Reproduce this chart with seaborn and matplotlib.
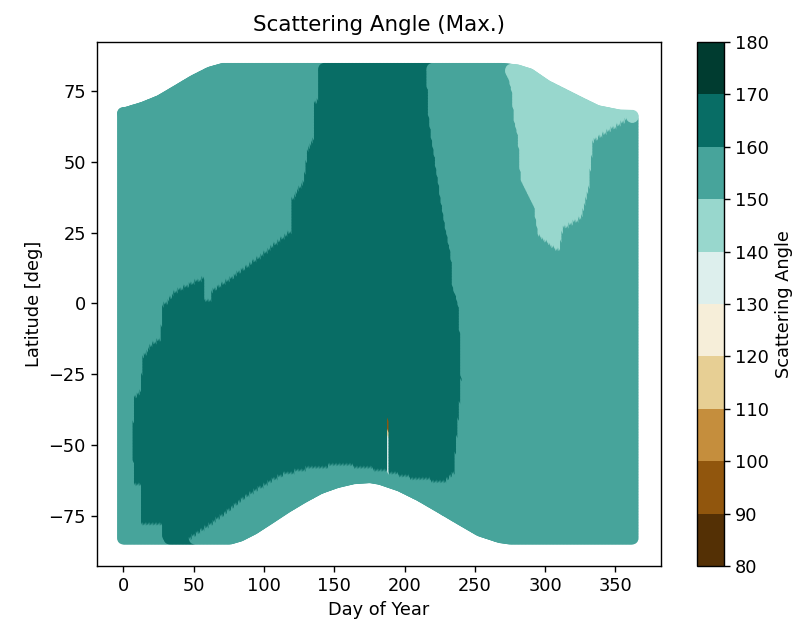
import numpy as np
import pandas as pd
import matplotlib
matplotlib.use("Agg")
import matplotlib.pyplot as plt
import seaborn as sns
from matplotlib.path import Path
from matplotlib.colors import BoundaryNorm
from matplotlib.cm import ScalarMappable

# ---------------- data ----------------
day_grid = np.arange(0, 363)          # day-of-year columns
lat_grid = np.arange(-83, 84)         # latitude rows [deg]

# outer envelope of valid data (upper / lower latitude per day)
top_days = [0, 2.4, 14.2, 26.1, 38, 49.8, 61.7, 71, 269, 280, 289, 301, 313, 325, 337, 353, 362]
top_lats = [67.2, 67.3, 69.1, 71.5, 75.0, 78.5, 81.5, 82.8, 82.8, 82.3, 80.9, 76.8,
            73.8, 70.8, 67.9, 66.3, 66.2]
bot_days = [0, 76, 83, 92.5, 104.3, 116.2, 128, 139.9, 151.8, 163.6, 175.5, 182.6,
            196.8, 211, 225.2, 239.5, 253.7, 267.9, 275, 362]
bot_lats = [-83, -83, -82, -79.6, -75.8, -71.9, -68.4, -65.2, -63.1, -61.7, -61.3, -61.9,
            -64.3, -67.8, -71.9, -76.1, -80.2, -82.5, -83, -83]

# angle classes
base_angle = 155    # 150-160 band (most of the map)
dark_angle = 165    # 160-170 band
light_angle = 145   # 140-150 band

# outline of the 160-170 region (as seen)
dark_edge_days = [138.5, 138.5, 134.9, 134.9, 130.7, 127.8, 118.6, 118.6, 106.5, 95.1,
                  75.9, 61.7, 61.7, 56.7, 56.7, 47.4, 34.6, 30.9, 27.3, 26.1,
                  19.0, 13.1, 11.9, 7.1, 6.0, 7.1, 11.9, 11.9, 27.3, 28.0,
                  44.0, 46.5, 63.8, 87.8, 111.5, 135.1, 158.9, 182.6, 206.3, 227.6,
                  234.7, 235.9, 238.1, 239.5, 238.1, 235.9, 233.7, 232.3, 227.4, 223.8,
                  220.3, 216.7, 214.6, 214.6]
dark_edge_lats = [93, 71.2, 70.8, 57.8, 54.2, 42.6, 35.5, 24.9, 20.0, 15.4,
                  8.3, 3.7, 0.5, 0.2, 8.3, 6.5, 3.0, -0.5, -1.1, -12.9,
                  -15.3, -20.0, -31.6, -34.1, -49.3, -64.7, -64.7, -78.3, -78.3, -95,
                  -95, -83.6, -77.6, -68.3, -61.2, -58.2, -57.7, -59.4, -62.4, -63.5,
                  -60.0, -50.7, -38.7, -27.0, -3.4, 2.3, 3.7, 16.4, 28.4, 40.1,
                  51.8, 63.8, 84.3, 93]

# outline of the 140-150 region (as seen)
light_edge_days = [270.1, 270.1, 275.1, 277.4, 280.0, 282.1, 291.4, 294.2, 303.5, 309.2,
                   312.0, 324.8, 330.5, 333.3, 344.0, 358.2, 400, 400]
light_edge_lats = [93, 82.5, 76.1, 64.2, 57.8, 42.6, 34.1, 23.5, 20.0, 17.8,
                   26.0, 29.5, 40.1, 56.7, 60.2, 64.8, 64.8, 93]

# narrow artefact column
spike_day = 192
spike_seg_top = [-41.0, -44.5, -47.0]
spike_seg_bottom = [-44.5, -47.0, -59.5]
spike_values = [95, 115, 135]

levels = [80, 90, 100, 110, 120, 130, 140, 150, 160, 170, 180]

# ---------------- build the field ----------------
MARKER_S = 80
EDGE_DAY_SHIFT = 4.5   # later columns overlap earlier ones by one marker radius
EDGE_LAT_SHIFT = 1.0

top_i = np.interp(day_grid, top_days, top_lats)
bot_i = np.interp(day_grid, bot_days, bot_lats)
col_d, col_l = [], []
for d, lo, hi in zip(day_grid, bot_i, top_i):
    lats = np.unique(np.clip(lat_grid.astype(float), lo, hi))
    col_d.append(np.full(lats.shape, float(d)))
    col_l.append(lats)
D = np.concatenate(col_d)
L = np.concatenate(col_l)
vals = np.full(D.shape, float(base_angle))
pts = np.column_stack([D, L])

dark_path = Path(np.column_stack([np.array(dark_edge_days) + EDGE_DAY_SHIFT,
                                  np.array(dark_edge_lats) + EDGE_LAT_SHIFT]))
vals[dark_path.contains_points(pts)] = dark_angle
light_path = Path(np.column_stack([np.array(light_edge_days) + EDGE_DAY_SHIFT,
                                   np.array(light_edge_lats) + EDGE_LAT_SHIFT]))
vals[light_path.contains_points(pts)] = light_angle
for t, b, v in zip(spike_seg_top, spike_seg_bottom, spike_values):
    vals[(D == spike_day) & (L <= t) & (L > b)] = v

df = pd.DataFrame({"day": D, "lat": L, "angle": vals})

# ---------------- plot ----------------
sns.set_theme(style="ticks")
plt.rcParams.update({
    "font.family": ["DejaVu Sans"],
    "axes.edgecolor": "black",
    "axes.linewidth": 1.0,
    "xtick.color": "black", "ytick.color": "black",
    "xtick.major.size": 4.5, "ytick.major.size": 4.5,
    "xtick.major.width": 1.0, "ytick.major.width": 1.0,
    "xtick.labelsize": 12.8, "ytick.labelsize": 12.8,
    "axes.labelsize": 12.8, "axes.titlesize": 15.4,
    "text.color": "black", "axes.labelcolor": "black",
})

cmap = plt.get_cmap("BrBG")
norm = BoundaryNorm(levels, cmap.N)

fig = plt.figure(figsize=(8.08, 6.3), dpi=100)
ax = fig.add_axes([97 / 808, 1 - 566 / 630, (661 - 97) / 808, (566 - 42) / 630])
cax = fig.add_axes([697 / 808, 1 - 566 / 630, 27 / 808, (566 - 42) / 630])

sns.scatterplot(data=df, x="day", y="lat", hue="angle", palette=cmap, hue_norm=norm,
                s=MARKER_S, linewidth=0, edgecolor="none", legend=False, ax=ax)

ax.set_xlim(-18.7, 382.4)
ax.set_ylim(-92.8, 92.4)
ax.set_xticks([0, 50, 100, 150, 200, 250, 300, 350])
ax.set_yticks([-75, -50, -25, 0, 25, 50, 75])
ax.set_xlabel("Day of Year")
ax.set_ylabel("Latitude [deg]")
ax.set_title("Scattering Angle (Max.)", pad=8)
for s in ax.spines.values():
    s.set_visible(True)

cb = fig.colorbar(ScalarMappable(norm=norm, cmap=cmap), cax=cax, ticks=levels)
cb.set_label("Scattering Angle", fontsize=12.8)
cb.outline.set_edgecolor("black")
cb.outline.set_linewidth(1.0)
cax.tick_params(labelsize=12.8, length=4.5, width=1.0)

fig.savefig("out.png", dpi=100)
